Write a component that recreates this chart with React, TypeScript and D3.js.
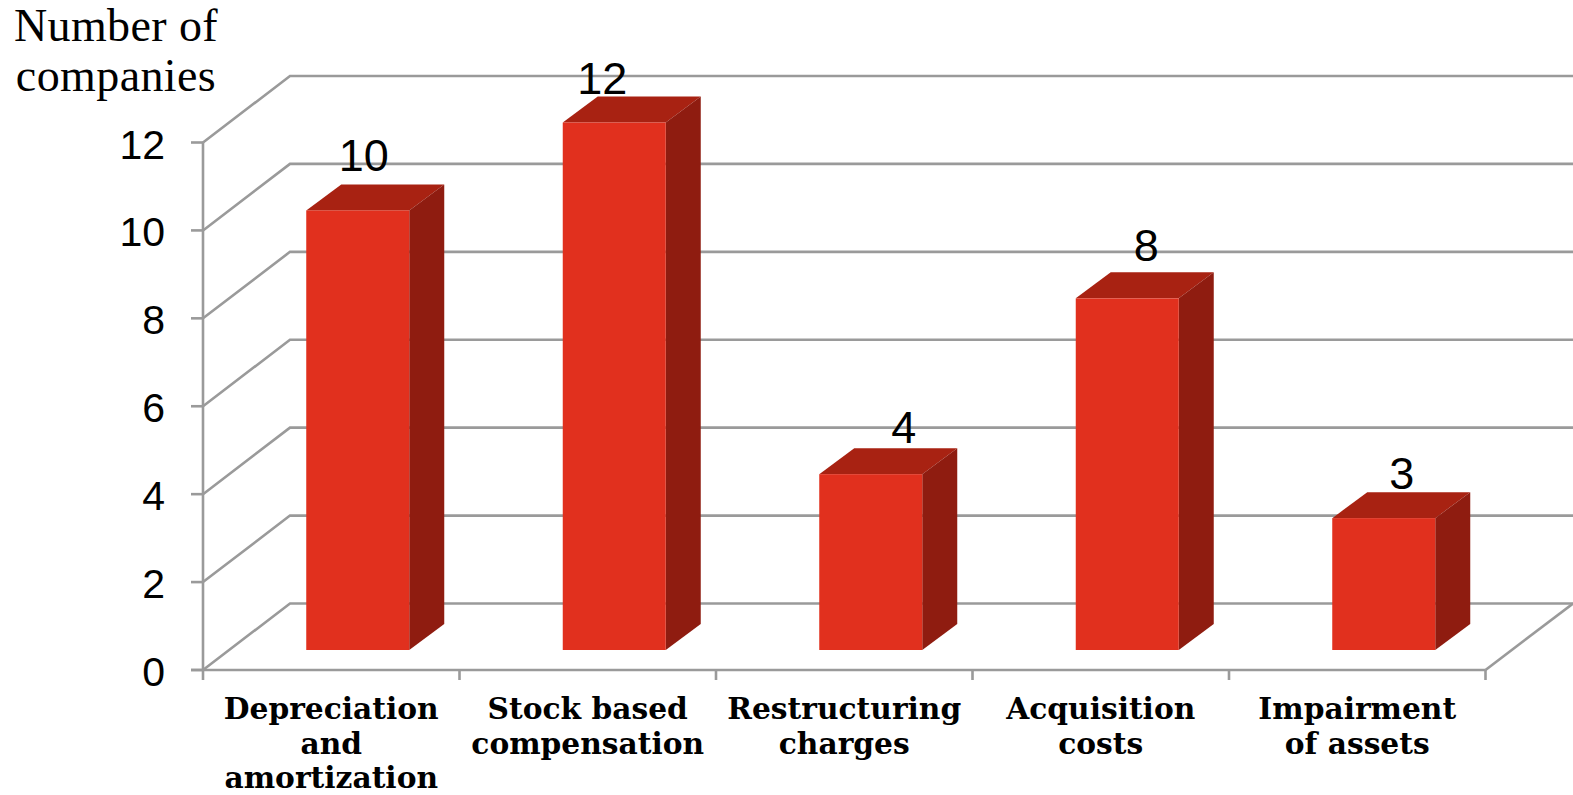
import React from "react";
import * as d3 from "d3";

const categories = [
  ["Depreciation", "and", "amortization"],
  ["Stock based", "compensation"],
  ["Restructuring", "charges"],
  ["Acquisition", "costs"],
  ["Impairment", "of assets"],
];
const companies = [10, 12, 4, 8, 3];
const yTicks = [0, 2, 4, 6, 8, 10, 12];
const titleLines = ["Number of", "companies"];

// Value labels sit by hand relative to their bars.
const labelShiftX = [6, -12, 33, 19, 18];
const labelLift = [39, 29, 31, 37, 29];

const W = 1573;
const H = 795;
const FRONT_X0 = 203;
const FRONT_X1 = 1485.5;
const FLOOR_Y = 670;
const TOP_Y = 142.5;
const WALL_DX = 87;
const WALL_DY = 66.5;
const BAR_DX = 35;
const BAR_DY = 26;
const BAR_W = 103;
const BAR_BASE_LIFT = 20;
const BAR_SHIFT = 26.5;
const GRID = "#9a9a9a";

export default function App() {
  const x = d3
    .scaleBand<number>()
    .domain(d3.range(categories.length))
    .range([FRONT_X0, FRONT_X1]);
  const y = d3.scaleLinear().domain([0, 12]).range([FLOOR_Y, TOP_Y]);
  const line = d3.line();
  const poly = (pts: [number, number][]) => line(pts) + "Z";

  return (
    <svg
      width={W}
      height={H}
      viewBox={`0 0 ${W} ${H}`}
      style={{ position: "fixed", left: 0, top: 0, background: "#fff" }}
    >
      {/* back wall gridlines and their slanted runs along the side wall */}
      <g fill="none" stroke={GRID} strokeWidth={2.6}>
        {yTicks.map((t) => (
          <path
            key={t}
            d={
              line([
                [FRONT_X0, y(t)],
                [FRONT_X0 + WALL_DX, y(t) - WALL_DY],
                [W, y(t) - WALL_DY],
              ]) as string
            }
          />
        ))}
        <path d={line([[FRONT_X1, FLOOR_Y], [W, FLOOR_Y - WALL_DY]]) as string} />
      </g>

      {/* axes */}
      <g fill="none" stroke={GRID} strokeWidth={2.6}>
        <path d={line([[FRONT_X0, TOP_Y], [FRONT_X0, FLOOR_Y]]) as string} />
        <path d={line([[191, FLOOR_Y], [FRONT_X1, FLOOR_Y]]) as string} />
        {yTicks.map((t) => (
          <path key={t} d={line([[191, y(t)], [FRONT_X0, y(t)]]) as string} />
        ))}
        {d3.range(categories.length + 1).map((i) => {
          const px = FRONT_X0 + i * x.step();
          return <path key={i} d={line([[px, FLOOR_Y], [px, 680]]) as string} />;
        })}
      </g>

      {/* bars */}
      {companies.map((v, i) => {
        const left = (x(i) as number) + x.bandwidth() / 2 - BAR_W / 2 + BAR_SHIFT;
        const right = left + BAR_W;
        const base = FLOOR_Y - BAR_BASE_LIFT;
        const top = y(v) - BAR_BASE_LIFT;
        return (
          <g key={i}>
            <path
              d={poly([
                [left, top],
                [left + BAR_DX, top - BAR_DY],
                [right + BAR_DX, top - BAR_DY],
                [right, top],
              ])}
              fill="#a82212"
            />
            <path
              d={poly([
                [right, top],
                [right + BAR_DX, top - BAR_DY],
                [right + BAR_DX, base - BAR_DY],
                [right, base],
              ])}
              fill="#8f1c10"
            />
            <rect x={left} y={top} width={BAR_W} height={base - top} fill="#e1301e" />
            <text
              x={left + BAR_W / 2 + labelShiftX[i]}
              y={top - labelLift[i]}
              textAnchor="middle"
              fontFamily="'Liberation Sans', Arial, sans-serif"
              fontSize={45}
              fill="#000"
            >
              {v}
            </text>
          </g>
        );
      })}

      {/* value axis labels */}
      {yTicks.map((t) => (
        <text
          key={t}
          x={165}
          y={y(t) + 16}
          textAnchor="end"
          fontFamily="'Liberation Sans', Arial, sans-serif"
          fontSize={41}
          fill="#000"
        >
          {t}
        </text>
      ))}

      {/* category labels */}
      {categories.map((lines, i) => (
        <text
          key={i}
          textAnchor="middle"
          fontFamily="'DejaVu Serif', serif"
          fontWeight="bold"
          fontSize={29.7}
          fill="#000"
        >
          {lines.map((l, j) => (
            <tspan
              key={j}
              x={(x(i) as number) + x.bandwidth() / 2}
              y={719 + j * 34.5}
            >
              {l}
            </tspan>
          ))}
        </text>
      ))}

      {/* value axis title */}
      <text
        fontFamily="'Liberation Serif', serif"
        fontSize={46}
        letterSpacing={0.4}
        fill="#000"
        textAnchor="middle"
      >
        {titleLines.map((l, j) => (
          <tspan key={j} x={116} y={41 + j * 50}>
            {l}
          </tspan>
        ))}
      </text>
    </svg>
  );
}
